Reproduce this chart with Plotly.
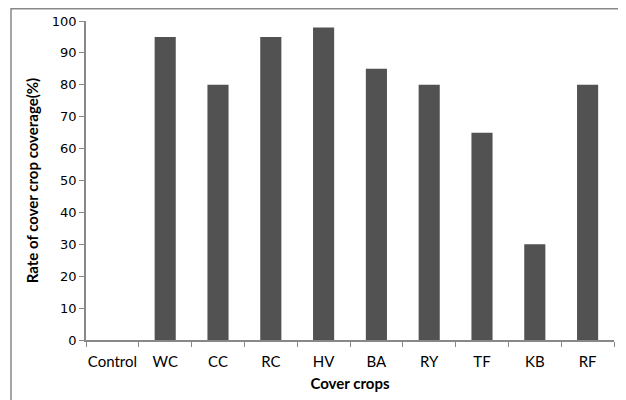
import plotly.graph_objects as go

categories = ["Control", "WC", "CC", "RC", "HV", "BA", "RY", "TF", "KB", "RF"]
coverage = [0, 95, 80, 95, 98, 85, 80, 65, 30, 80]
y_ticks = list(range(0, 101, 10))

fig = go.Figure(go.Bar(x=categories, y=coverage, marker=dict(color="#525252", line=dict(width=0))))

# page body has an 8px margin, so the figure is 618x392 drawn at (8, 8)
L, R, T, B = 78, 12, 13, 60
W, H = 618, 392
pw, ph = W - L - R, H - T - B

fig.update_layout(
    width=W, height=H,
    margin=dict(l=L, r=R, t=T, b=B),
    paper_bgcolor="white", plot_bgcolor="white",
    bargap=0.6, showlegend=False,
    font=dict(family="Lato, Open Sans, sans-serif", color="black"),
    xaxis=dict(
        type="category", tickson="boundaries", ticks="outside", ticklen=5,
        tickangle=0, automargin=False, ticklabelstandoff=7,
        tickcolor="#888888", showline=True, linecolor="#888888", linewidth=1.5,
        showgrid=False, tickfont=dict(size=15, family="Lato, sans-serif"),
        title=dict(text="<b>Cover crops</b>", font=dict(size=15, family="Lato, sans-serif"), standoff=10),
    ),
    yaxis=dict(
        range=[0, 100], tickvals=y_ticks, ticks="outside", ticklen=5, automargin=False,
        tickcolor="#888888", showline=True, linecolor="#888888", linewidth=1.5,
        showgrid=False, zeroline=False, tickfont=dict(size=13, family="DejaVu Sans, sans-serif"),
        title=dict(text="<b>Rate of cover crop coverage(%)</b>", font=dict(size=15, family="Lato, sans-serif"), standoff=10),
    ),
)

fig.add_shape(
    type="rect", xref="paper", yref="paper",
    x0=(3 - L) / pw, x1=(615 - L) / pw,
    y0=-0.3, y1=(H - B - 0.75) / ph,
    line=dict(color="#888888", width=1.5), layer="below",
)

fig.write_html("out.html")
